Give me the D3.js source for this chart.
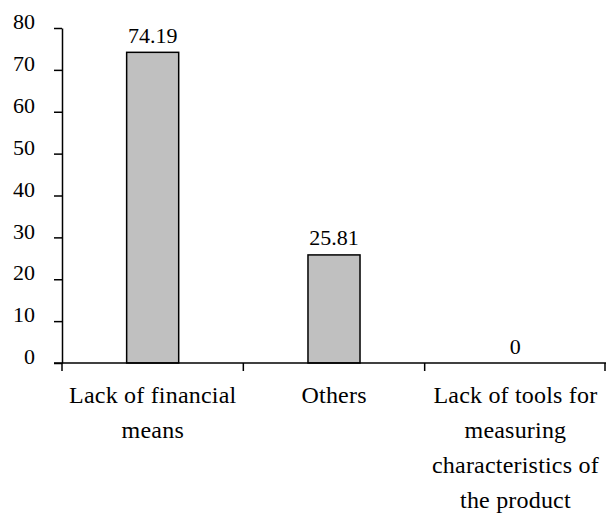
<!DOCTYPE html>
<html>
<head>
<meta charset="utf-8">
<script src="https://cdn.jsdelivr.net/npm/d3@7"></script>
<style>
  html, body { margin: 0; padding: 0; background: #fff; }
  svg { display: block; }
  text { font-family: "Liberation Serif", "DejaVu Serif", serif; fill: #000; }
</style>
</head>
<body>
<svg id="chart" width="606" height="513"></svg>
<script>
// Share of respondents by reported obstacle (%)
const categories = [
  ["Lack of financial", "means"],
  ["Others"],
  ["Lack of tools for", "measuring", "characteristics of", "the product"]
];
const values = [74.19, 25.81, 0];
const valueLabels = ["74.19", "25.81", "0"];
const yTicks = [0, 10, 20, 30, 40, 50, 60, 70, 80];

const svg = d3.select("#chart");
const plotLeft = 62, plotRight = 606, plotTop = 28, plotBottom = 363;
const fontSize = 22;
const catFontSize = 24;

const keys = categories.map((c, i) => i);

// Category slots (axis ticks sit on slot boundaries)
const xSlot = d3.scaleBand().domain(keys).range([plotLeft, plotRight]).padding(0);
// Bars occupy the middle of each slot
const xBar = d3.scaleBand().domain(keys).range([plotLeft, plotRight])
  .paddingInner(0.713).paddingOuter(0.3565);
const y = d3.scaleLinear().domain([0, 80]).range([plotBottom, plotTop]);

// Y axis
const yAxis = svg.append("g")
  .attr("transform", `translate(${plotLeft},0)`)
  .call(d3.axisLeft(y).tickValues(yTicks).tickSize(8).tickSizeOuter(0).tickPadding(19));
yAxis.selectAll("path, line").attr("stroke", "#000").attr("stroke-width", 1.5);
yAxis.selectAll("text")
  .attr("dy", "0.03em")
  .style("font-size", fontSize + "px")
  .style("font-family", '"Liberation Serif", serif');

// Bars
svg.append("g").selectAll("rect")
  .data(values)
  .join("rect")
  .attr("x", (d, i) => xBar(i))
  .attr("width", xBar.bandwidth())
  .attr("y", d => y(d))
  .attr("height", d => y(0) - y(d))
  .attr("fill", "#c0c0c0")
  .attr("stroke", "#000")
  .attr("stroke-width", 1.5);

// Value labels
svg.append("g").selectAll("text")
  .data(values)
  .join("text")
  .attr("x", (d, i) => xBar(i) + xBar.bandwidth() / 2)
  .attr("y", d => y(d) - 9.5)
  .attr("text-anchor", "middle")
  .style("font-size", fontSize + "px")
  .text((d, i) => valueLabels[i]);

// X axis line with boundary ticks
const xg = svg.append("g");
xg.append("line")
  .attr("x1", plotLeft - 8).attr("x2", plotRight)
  .attr("y1", y(0)).attr("y2", y(0))
  .attr("stroke", "#000").attr("stroke-width", 1.5);
const bounds = keys.map(k => xSlot(k)).concat([plotRight - 1]);
xg.selectAll("line.tick")
  .data(bounds)
  .join("line")
  .attr("class", "tick")
  .attr("x1", d => d).attr("x2", d => d)
  .attr("y1", y(0)).attr("y2", y(0) + 8)
  .attr("stroke", "#000").attr("stroke-width", 1.5);

// Category labels (wrapped lines)
const lineH = 35;
const labels = xg.selectAll("text.cat")
  .data(categories)
  .join("text")
  .attr("class", "cat")
  .attr("text-anchor", "middle")
  .style("font-size", catFontSize + "px")
  .style("letter-spacing", "0.2px")
  .attr("transform", (d, i) => `translate(${xSlot(i) + xSlot.bandwidth() / 2 + 0.1},${y(0) + 40})`);
labels.selectAll("tspan")
  .data(d => d)
  .join("tspan")
  .attr("x", 0)
  .attr("y", (d, j) => j * lineH)
  .text(d => d);
</script>
</body>
</html>
